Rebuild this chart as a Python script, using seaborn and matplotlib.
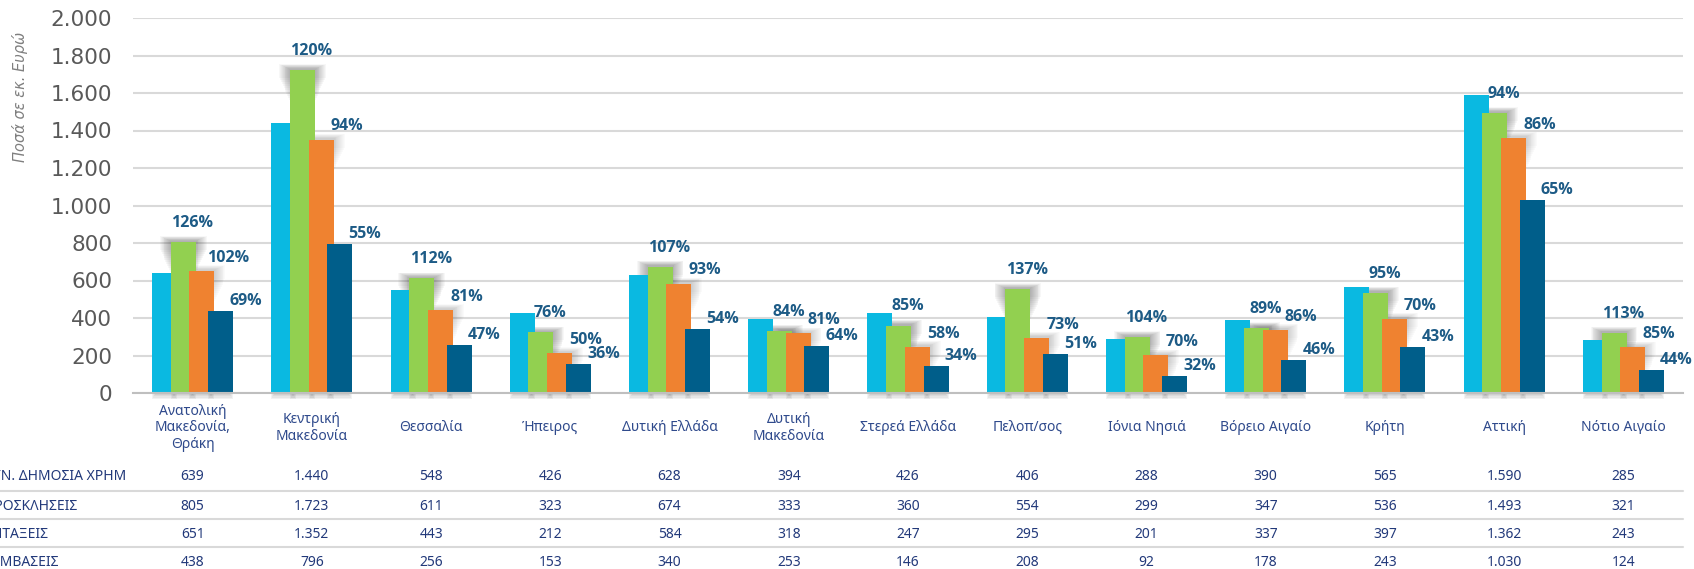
import seaborn as sns
import numpy as np
import pandas as pd
import matplotlib.pyplot as plt
from matplotlib.lines import Line2D
from matplotlib.patches import Rectangle
from matplotlib import transforms

sns.set_theme(style="white")
plt.rcParams['font.family'] = ['DejaVu Sans']

# data (εκ. Ευρώ)
regions = ["Ανατολική\nΜακεδονία,\nΘράκη", "Κεντρική\nΜακεδονία", "Θεσσαλία", "Ήπειρος",
           "Δυτική Ελλάδα", "Δυτική\nΜακεδονία", "Στερεά Ελλάδα", "Πελοπ/σος",
           "Ιόνια Νησιά", "Βόρειο Αιγαίο", "Κρήτη", "Αττική", "Νότιο Αιγαίο"]
series_names = ["ΣΥΝ. ΔΗΜΟΣΙΑ ΧΡΗΜ", "ΠΡΟΣΚΛΗΣΕΙΣ", "ΕΝΤΑΞΕΙΣ", "ΣΥΜΒΑΣΕΙΣ"]
dimosia = [639, 1440, 548, 426, 628, 394, 426, 406, 288, 390, 565, 1590, 285]
proskliseis = [805, 1723, 611, 323, 674, 333, 360, 554, 299, 347, 536, 1493, 321]
entaxeis = [651, 1352, 443, 212, 584, 318, 247, 295, 201, 337, 397, 1362, 243]
symvaseis = [438, 796, 256, 153, 340, 253, 146, 208, 92, 178, 243, 1030, 124]
# percentages as labelled (vs ΣΥΝ. ΔΗΜΟΣΙΑ ΧΡΗΜ)
pct_proskl = [126, 120, 112, 76, 107, 84, 85, 137, 104, 89, 95, 94, 113]
pct_entax = [102, 94, 81, 50, 93, 81, 58, 73, 70, 86, 70, 86, 85]
pct_symv = [69, 55, 47, 36, 54, 64, 34, 51, 32, 46, 43, 65, 44]
yticks = list(range(0, 2001, 200))

colors = ["#0AB9E1", "#92D050", "#EF8230", "#005E8A"]
all_series = [dimosia, proskliseis, entaxeis, symvaseis]
all_pct = [None, pct_proskl, pct_entax, pct_symv]

df = pd.DataFrame({
    "region": np.tile(regions, 4),
    "series": np.repeat(series_names, len(regions)),
    "value": np.concatenate(all_series),
})

W, H = 1694, 569
fig = plt.figure(figsize=(W / 100, H / 100), dpi=100)
ax = fig.add_axes([133 / W, 1 - 393 / H, (1683 - 133) / W, (393 - 18) / H])

step = 18.7 / 119.2
sns.barplot(data=df, x="region", y="value", hue="series", order=regions,
            hue_order=series_names, palette=colors, width=4 * step,
            saturation=1, legend=False, ax=ax, zorder=3)

# overlapping bars like the original
bw = 25 / 119.2
px_x, px_y = 1 / 119.2, 2000 / 375
bars = list(ax.patches)
n = len(regions)
for j, p in enumerate(bars):
    c = p.get_x() + p.get_width() / 2
    p.set_width(bw)
    p.set_x(c - bw / 2)
    p.set_edgecolor("none")
    p.set_zorder(3)
    k_series = j // n
    top = p.get_height()
    # soft shadow near the top of green / orange bars
    strength = {1: 0.035, 2: 0.018}.get(k_series, 0)
    if strength:
        for k in range(1, 13):
            e = 0.9 * k
            down = 32 - 2 * k
            ax.add_patch(Rectangle((p.get_x() - e * px_x, top - down * px_y),
                                   bw + 2 * e * px_x, (down + 1 + 0.4 * k) * px_y,
                                   facecolor="#303030", edgecolor="none",
                                   alpha=strength, zorder=2))
    # faint shadow under the baseline
    for k in range(1, 5):
        ax.add_patch(Rectangle((p.get_x() + (4 - k) * px_x, -1.5 * k * px_y),
                               bw - 2 * (4 - k) * px_x, 1.5 * k * px_y,
                               facecolor="#303030", edgecolor="none", alpha=0.06,
                               zorder=2, clip_on=False))

ax.set_xlim(-0.5, n - 0.5)
ax.set_ylim(0, 2000)
ax.set_yticks(yticks)
ax.set_yticklabels([f"{v:,}".replace(",", ".") for v in yticks],
                   fontsize=15.5, color="#595959")
ax.tick_params(axis="y", length=0, pad=15)
ax.yaxis.grid(True, color="#D9D9D9", linewidth=1.5, zorder=0)
ax.set_axisbelow(True)
for s in ["top", "right", "left"]:
    ax.spines[s].set_visible(False)
ax.spines["bottom"].set_color("#BFBFBF")
ax.spines["bottom"].set_linewidth(1.5)
ax.spines["bottom"].set_zorder(4)

ax.set_xlabel("")
ax.set_ylabel("")
ax.set_xticks(range(n))
ax.set_xticklabels(regions, fontsize=10, color="#2F4A8C", va="center",
                   fontfamily="Noto Sans", linespacing=1.15)
ax.tick_params(axis="x", length=0, pad=25)

fig.text(20 / W, 1 - 97 / H, "Ποσά σε εκ. Ευρώ", rotation=90, style="italic",
         fontsize=10.5, color="#7F7F7F", ha="center", va="center")

# percentage labels
offsets = {1: (9, 19), 2: (26, 13), 3: (25, 10)}
for k in (1, 2, 3):
    for i, v in enumerate(all_series[k]):
        xc = i + (k - 1.5) * step
        dx, dy = offsets[k]
        ax.annotate(f"{all_pct[k][i]}%", (xc, v), xytext=(dx * 0.72, dy * 0.72),
                    textcoords="offset points", ha="center", va="center",
                    fontsize=11.5, fontweight="bold", color="#1D5B86",
                    fontfamily="Open Sans", zorder=5)

# data table below the chart
trans = transforms.blended_transform_factory(ax.transData, fig.transFigure)
row_y = [477, 506, 534, 562]
for r, (name, vals) in enumerate(zip(series_names, all_series)):
    y = 1 - row_y[r] / H
    fig.text(-15 / W, y, name, ha="left", va="center", fontsize=10,
             color="#22397A", fontfamily="Noto Sans")
    for i, v in enumerate(vals):
        ax.text(i, y, f"{v:,}".replace(",", "."), transform=trans, ha="center",
                va="center", fontsize=10, color="#22397A", fontfamily="Noto Sans",
                clip_on=False)
for yl in [491, 519, 547]:
    fig.add_artist(Line2D([0, 1683 / W], [1 - yl / H] * 2, transform=fig.transFigure,
                          color="#D9D9D9", linewidth=1.5))

fig.savefig("out.png", dpi=100)
